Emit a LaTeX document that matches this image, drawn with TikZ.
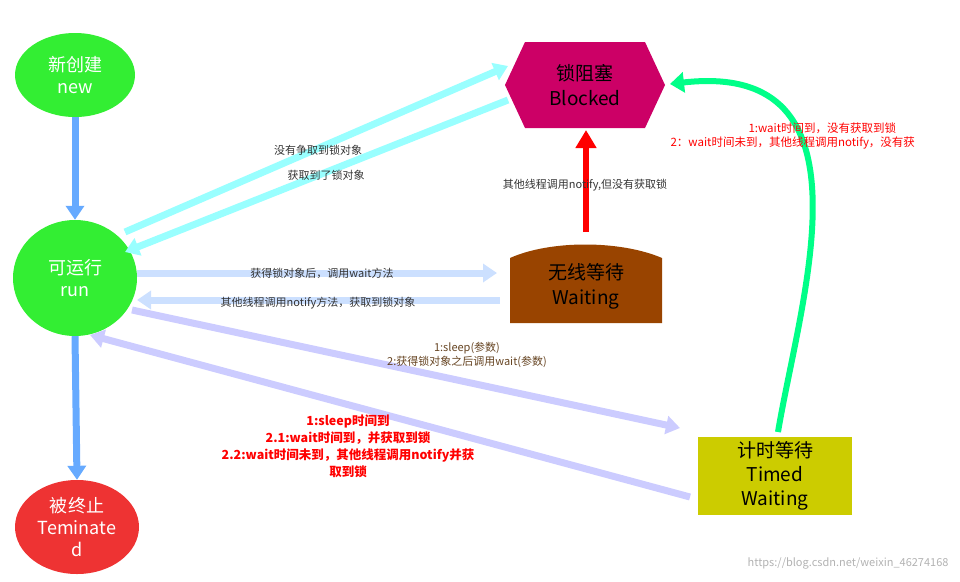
\documentclass[tikz,border=0pt]{standalone}
\usepackage{fontspec}
\setmainfont{Noto Sans CJK SC}
\usetikzlibrary{arrows.meta,shapes.geometric}
\definecolor{gnew}{HTML}{33EE33}
\definecolor{rterm}{HTML}{EE3333}
\definecolor{mblk}{HTML}{CC0066}
\definecolor{bwait}{HTML}{994400}
\definecolor{ytime}{HTML}{CCCC00}
\definecolor{ablue}{HTML}{66AAFF}
\definecolor{acyan}{HTML}{99FFFF}
\definecolor{alight}{HTML}{CCE0FF}
\definecolor{alav}{HTML}{CCCCFF}
\definecolor{agreen}{HTML}{00FF88}
\definecolor{tgray}{HTML}{333333}
\definecolor{tbrown}{HTML}{664422}
\begin{document}
\begin{tikzpicture}[x=1pt,y=-1pt,
  st/.style={ellipse,fill=#1,text=white,font=\fontsize{18}{22}\selectfont,align=center,inner sep=0pt},
  fat/.style={line width=7pt,-{Triangle[length=14pt,width=18pt]},draw=#1},
  lbl/.style={font=\fontsize{11}{14}\selectfont,text=tgray,align=center},
  rl/.style={font=\bfseries\fontsize{12.5}{17}\selectfont,text=red,align=center},
  bx/.style={font=\fontsize{19}{25}\selectfont,align=center}]
\useasboundingbox (0,0) rectangle (960,581);
\node[st=gnew,minimum width=120pt,minimum height=84pt] (new) at (75,75) {新创建\\new};
\node[st=gnew,minimum width=124pt,minimum height=116pt] (run) at (75,278) {可运行\\run};
\node[st=rterm,minimum width=124pt,minimum height=94pt] (term) at (77,527) {被终止\\Teminate\\d};
\fill[mblk] (505,85) -- (525,42) -- (645,42) -- (665,85) -- (645,128) -- (525,128) -- cycle;
\node[bx] (blk) at (585,85) {锁阻塞\\Blocked};
\fill[bwait] (510,258) .. controls (550,240) and (620,240) .. (662,258) -- (662,323) -- (510,323) -- cycle;
\node[bx] (wait) at (586,286) {无线等待\\Waiting};
\fill[ytime] (698,437) rectangle (852,515);
\node[bx,font=\fontsize{19}{24}\selectfont] (tw) at (775,476) {计时等待\\Timed\\Waiting};
% arrows
\draw[fat=ablue] (new.south) -- (run.north);
\draw[fat=ablue] (run.south) -- (term.north);
\draw[fat=acyan] (125,232) -- (508,66);
\draw[fat=acyan] (508,100) -- (125,252);
\draw[fat=alight] (137,273) -- (497,273);
\draw[fat=alight] (500,300) -- (137,300);
\draw[fat=alav] (132,310) -- (680,428);
\draw[fat=alav] (690,497) -- (90,335);
\draw[line width=6pt,red,-{Triangle[length=18pt,width=20pt]}] (586,232) -- (586,130);
\draw[line width=6pt,agreen,-{Triangle[length=14pt,width=20pt]}] (778,432) .. controls (800,300) and (880,60) .. (670,84);
% labels
\node[lbl] at (318,150) {没有争取到锁对象};
\node[lbl] at (326,175) {获取到了锁对象};
\node[lbl] at (585,185) {其他线程调用notify,但没有获取锁};
\node[lbl] at (322,273) {获得锁对象后，调用wait方法};
\node[lbl] at (318,303) {其他线程调用notify方法，获取到锁对象};
\node[lbl,text=tbrown] at (467,355) {1:sleep(参数)\\2:获得锁对象之后调用wait(参数)};
\node[rl] at (348,446) {1:sleep时间到\\2.1:wait时间到，并获取到锁\\2.2:wait时间未到，其他线程调用notify并获\\取到锁};
\node[font=\fontsize{11.5}{15}\selectfont,text=red,anchor=west] at (745,128) {1:wait时间到，没有获取到锁};
\node[font=\fontsize{11.5}{15}\selectfont,text=red,anchor=west] at (667,143) {2：wait时间未到，其他线程调用notify，没有获};
\node[font=\fontsize{11}{12}\selectfont,text=gray!60,anchor=east] at (952,563) {https://blog.csdn.net/weixin\_46274168};
\end{tikzpicture}
\end{document}
